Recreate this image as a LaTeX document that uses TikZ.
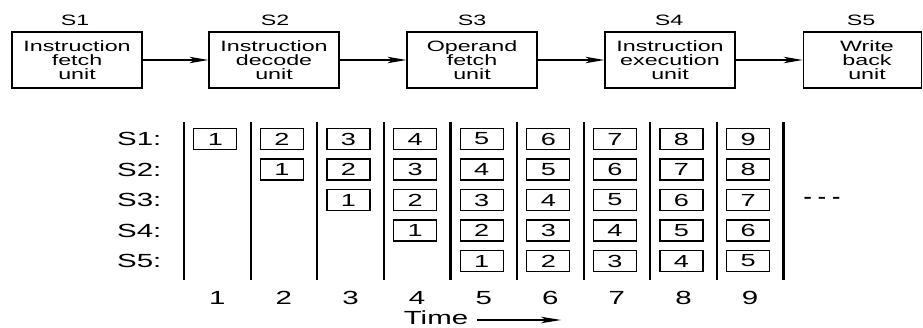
\documentclass[tikz,border=0pt]{standalone}
\usepackage{fontspec}
\setmainfont[FakeStretch=1.55]{Liberation Sans}
\usetikzlibrary{arrows.meta}
\begin{document}
\begin{tikzpicture}[x=1pt,y=-1pt,
  unitbox/.style={draw, line width=1.3pt, minimum width=130pt, minimum height=56pt, inner sep=0pt},
  unittext/.style={align=center, font=\fontsize{15}{14}\selectfont, inner sep=0pt},
  stagelbl/.style={font=\fontsize{15}{15}\selectfont, inner sep=0pt},
  flow/.style={line width=1.2pt, -{Stealth[length=19pt,width=6.5pt,inset=5pt]}},
  rowlbl/.style={font=\fontsize{19}{19}\selectfont, inner sep=0pt, anchor=west},
  collbl/.style={font=\fontsize{19}{19}\selectfont, inner sep=0pt},
  cell/.style={draw, line width=1.3pt, minimum width=43pt, minimum height=21pt, inner sep=0pt, font=\fontsize{17.5}{17.5}\selectfont},
  sep/.style={line width=2.2pt}
]
\useasboundingbox (0,0) rectangle (923,327);
% top pipeline
\node[unitbox, unittext] (u1) at (77,60) {Instruction\\fetch\\unit};
\node[unitbox, unittext] (u2) at (274,60) {Instruction\\decode\\unit};
\node[unitbox, unittext] (u3) at (472,60) {Operand\\fetch\\unit};
\node[unitbox, unittext] (u4) at (670,60) {Instruction\\execution\\unit};
\node[unitbox, minimum width=118.5pt] (u5) at (862.5,60) {};
\node[unittext] (u5t) at (867,60) {Write\\back\\unit};
\node[stagelbl] (s1) at (75,20) {S1};
\node[stagelbl] (s2) at (275,20) {S2};
\node[stagelbl] (s3) at (472,20) {S3};
\node[stagelbl] (s4) at (669,20) {S4};
\node[stagelbl] (s5) at (861,20) {S5};
\draw[flow] (u1) -- (u2);
\draw[flow] (u2) -- (u3);
\draw[flow] (u3) -- (u4);
\draw[flow] (u4) -- (u5);
% bottom grid
\foreach \k in {0,...,9} {
  \coordinate (t\k) at ({184+66.6*\k},122);
  \coordinate (b\k) at ({184+66.6*\k},280);
  \draw[sep] (t\k) -- (b\k);
}
\foreach \r in {1,...,5} {
  \node[rowlbl] (r\r) at (117,{139+30.5*(\r-1)}) {S\r:};
  \foreach \c in {\r,...,9} {
    \pgfmathtruncatemacro{\v}{\c-\r+1}
    \node[cell] (c\r-\c) at ({184+66.6*(\c-0.5)-2},{139+30.5*(\r-1)}) {\v};
  }
}
\foreach \c in {1,...,9} {
  \node[collbl] (n\c) at ({184+66.6*(\c-0.5)},298) {\c};
}
\node[font=\fontsize{16}{16}\selectfont\bfseries, inner sep=0pt] (dots) at (822,200) {-\hspace{6pt}-\hspace{6pt}-};
\node[collbl] (time) at (436,318) {Time};
\coordinate (tend) at (561,320);
\draw[line width=1.1pt, -{Stealth[length=20pt,width=6.5pt,inset=5pt]}] ([xshift=9pt,yshift=-2pt]time.east) -- (tend);
\end{tikzpicture}
\end{document}
